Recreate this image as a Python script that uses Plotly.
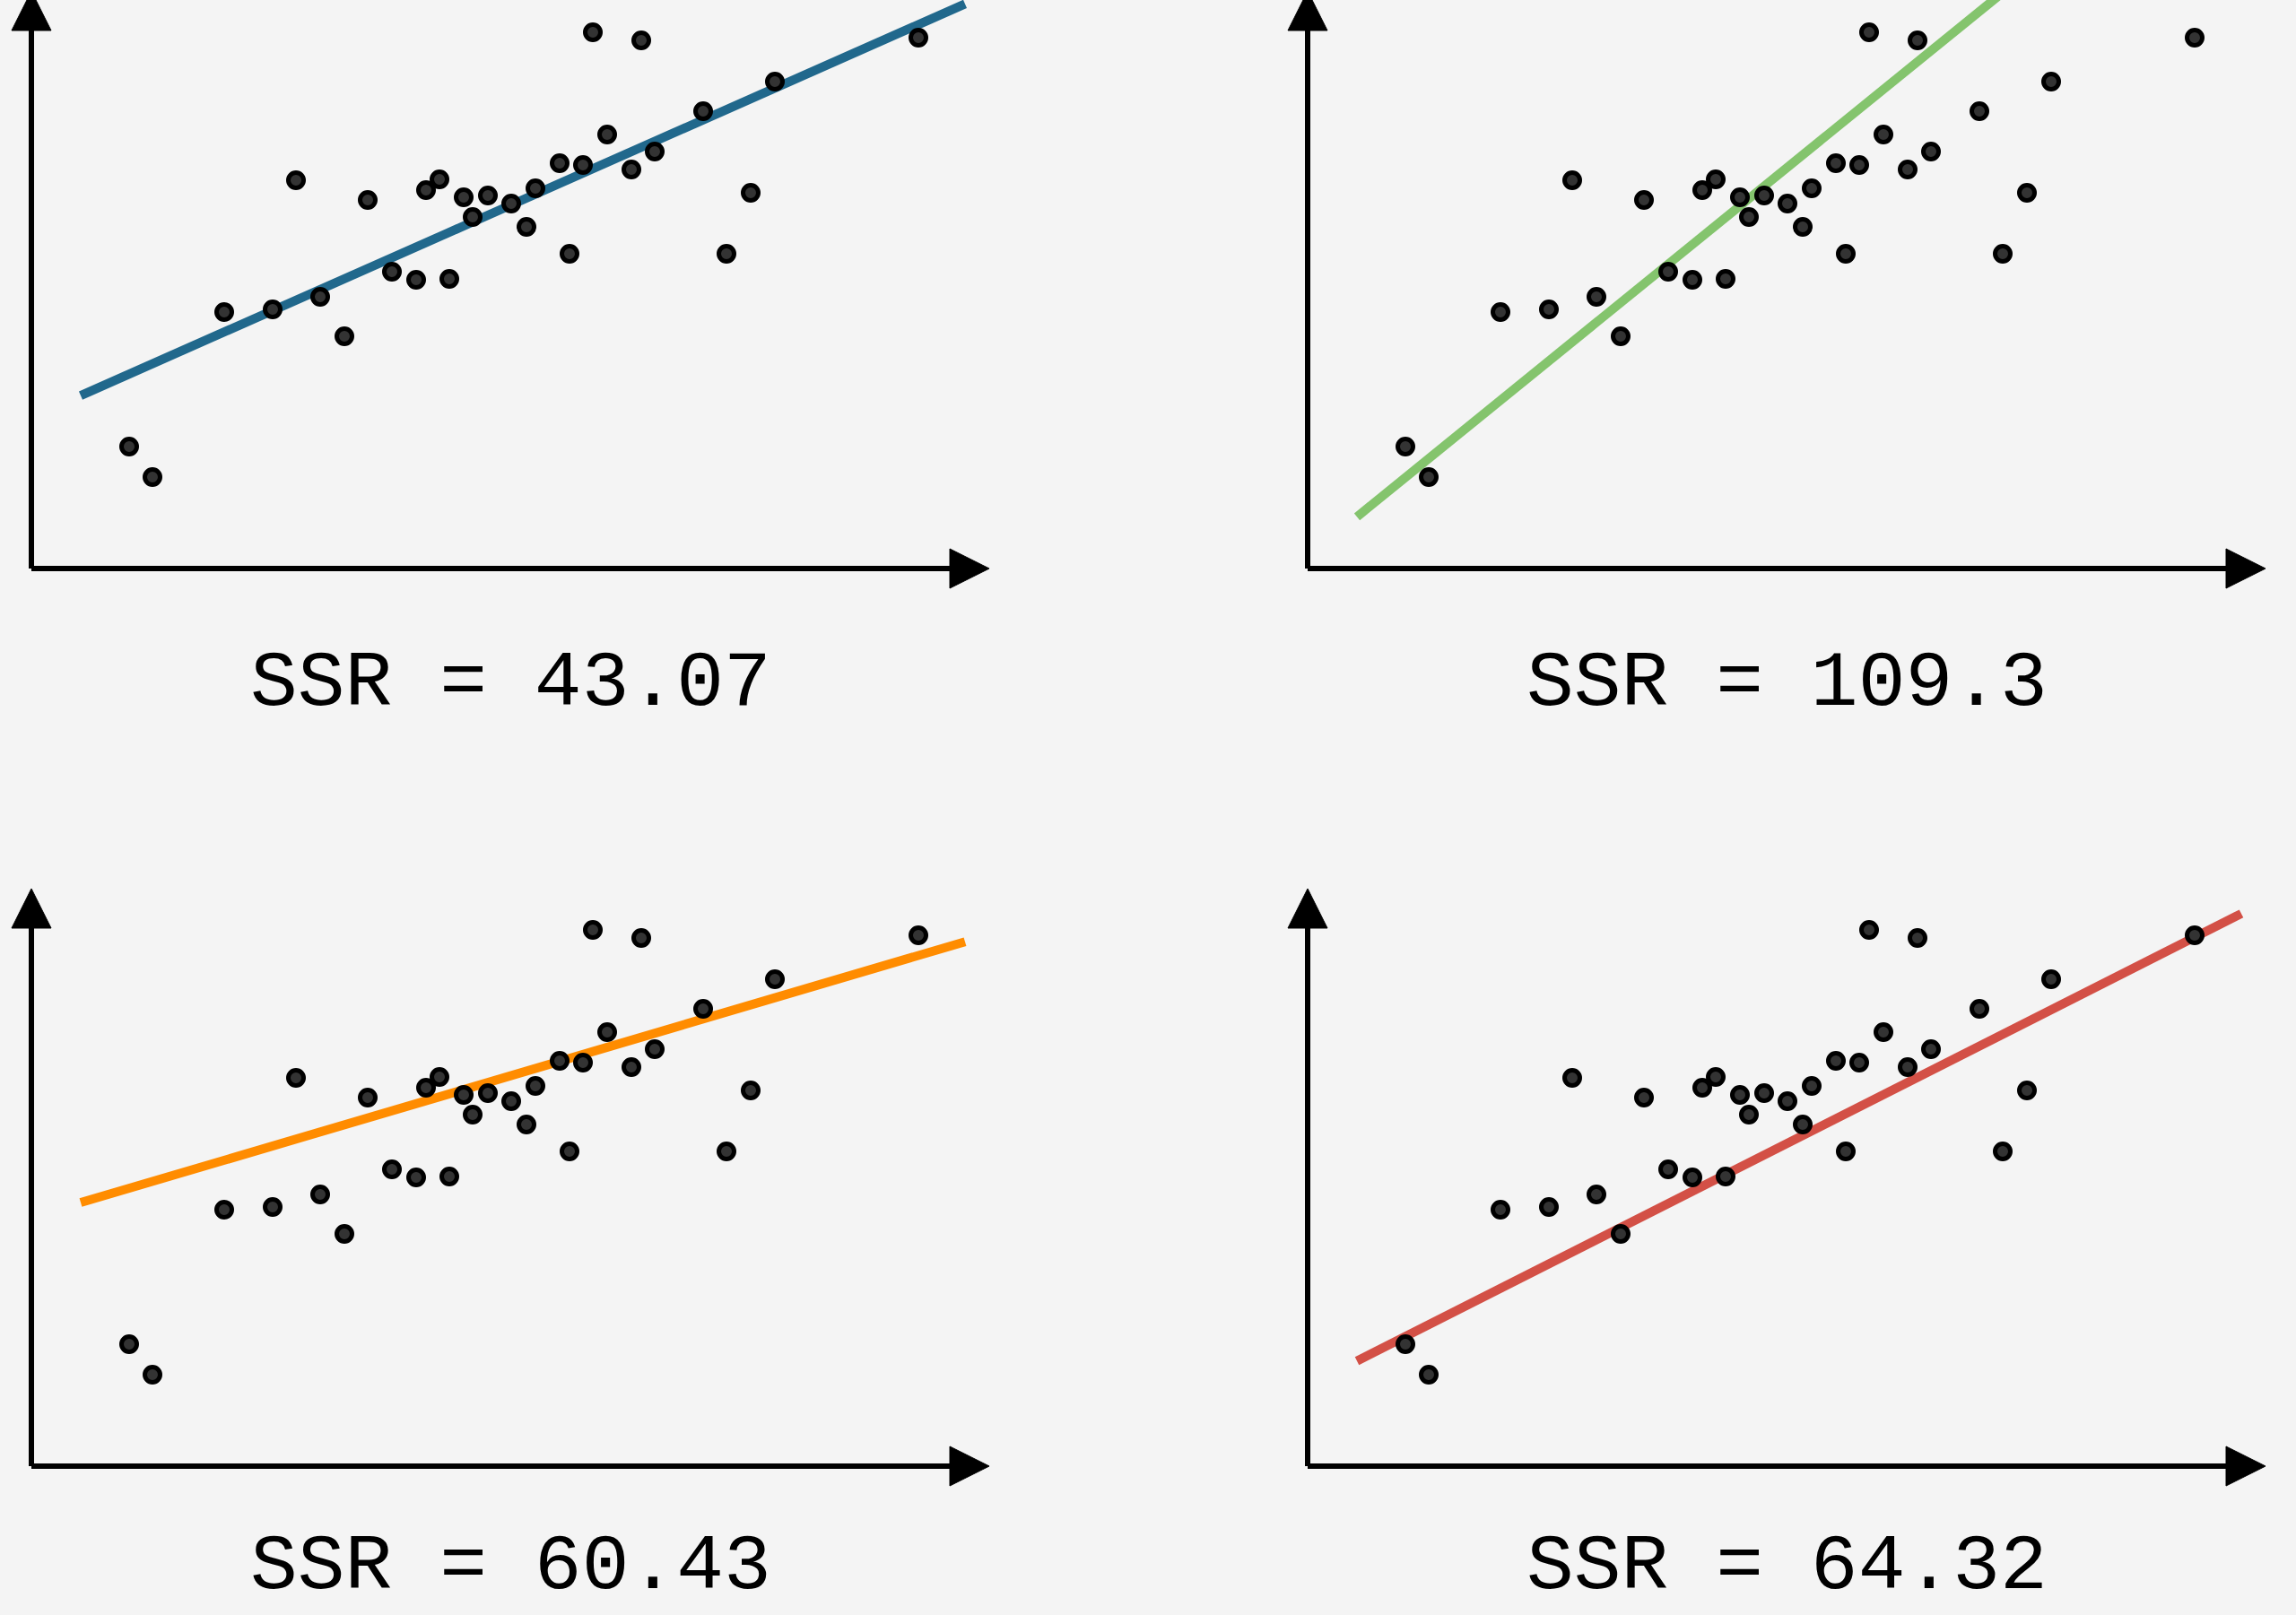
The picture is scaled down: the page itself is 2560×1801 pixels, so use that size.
import plotly.graph_objects as go

# scattered observations (same set in every panel), units: 100 px per unit
x_obs = [1.09, 1.35, 2.15, 2.69, 3.22, 3.49, 2.95, 3.75, 4.02, 4.29, 4.40,
         4.55, 4.66, 4.82, 4.92, 5.09, 5.35, 5.52, 5.62, 5.89, 6.00, 6.15,
         6.26, 6.42, 6.69, 6.80, 6.95, 7.49, 7.75, 8.02, 8.29, 9.89]
y_obs = [1.36, 1.02, 2.86, 2.89, 3.03, 2.59, 4.33, 4.11, 3.31, 3.22, 4.22,
         4.34, 3.23, 4.14, 3.92, 4.16, 4.07, 3.81, 4.24, 4.52, 3.51, 4.50,
         5.98, 4.84, 4.45, 5.89, 4.65, 5.10, 3.51, 4.19, 5.43, 5.92]

# candidate lines, one per panel
intercepts = [1.685, 0.130, 2.777, 0.894]
slopes = [0.443, 0.812, 0.295, 0.506]
line_colors = ["#21688c", "#84c46d", "#ff8c00", "#d35046"]
ssr_labels = ["SSR = 43.07", "SSR = 109.3", "SSR = 60.43", "SSR = 64.32"]
fit_x = [0.55, 10.41]

W, H = 2560, 1801
BG = "#f4f4f4"

# panel placement in pixels: (x0, x1, y0, y1 from bottom, x origin px, y origin px, label y)
panels = [
    (0, 1120, 1020, 1801, 35, 1167, -1.28),
    (1400, 2560, 1020, 1801, 1458, 1167, -1.28),
    (0, 1120, 0, 1000, 35, 166, -1.12),
    (1400, 2560, 0, 1000, 1458, 166, -1.12),
]

AX_LEN = 10.68   # x arrow tip
AY_LEN = 6.44    # y arrow tip
HEAD = 0.44

fig = go.Figure()
layout = dict(width=W, height=H, margin=dict(l=0, r=0, t=0, b=0),
              paper_bgcolor=BG, plot_bgcolor=BG, showlegend=False)
shapes = []
annotations = []

for i, (px0, px1, py0, py1, ox, oy, label_y) in enumerate(panels):
    n = "" if i == 0 else str(i + 1)
    xa, ya = "x" + n, "y" + n
    layout["xaxis" + n] = dict(domain=[px0 / W, px1 / W],
                               range=[(px0 - ox) / 100, (px1 - ox) / 100],
                               visible=False, anchor=ya)
    layout["yaxis" + n] = dict(domain=[py0 / H, py1 / H],
                               range=[(py0 - oy) / 100, (py1 - oy) / 100],
                               visible=False, anchor=xa)

    fy = [intercepts[i] + slopes[i] * v for v in fit_x]
    fig.add_trace(go.Scatter(x=fit_x, y=fy, mode="lines", xaxis=xa, yaxis=ya,
                             line=dict(color=line_colors[i], width=10)))
    fig.add_trace(go.Scatter(x=x_obs, y=y_obs, mode="markers", xaxis=xa, yaxis=ya,
                             marker=dict(size=17, color="#333333",
                                         line=dict(color="black", width=5))))

    # axes with arrow heads
    shapes.append(dict(type="line", xref=xa, yref=ya, x0=0, y0=0,
                       x1=AX_LEN - HEAD, y1=0, line=dict(color="black", width=6)))
    shapes.append(dict(type="line", xref=xa, yref=ya, x0=0, y0=0,
                       x1=0, y1=AY_LEN - HEAD, line=dict(color="black", width=6)))
    shapes.append(dict(type="path", xref=xa, yref=ya, fillcolor="black",
                       line=dict(color="black", width=1),
                       path=f"M {AX_LEN - HEAD},{HEAD / 2} L {AX_LEN},0 "
                            f"L {AX_LEN - HEAD},{-HEAD / 2} Z"))
    shapes.append(dict(type="path", xref=xa, yref=ya, fillcolor="black",
                       line=dict(color="black", width=1),
                       path=f"M {-HEAD / 2},{AY_LEN - HEAD} L 0,{AY_LEN} "
                            f"L {HEAD / 2},{AY_LEN - HEAD} Z"))

    annotations.append(dict(x=AX_LEN / 2, y=label_y, xref=xa, yref=ya,
                            text=ssr_labels[i], showarrow=False,
                            xanchor="center", yanchor="middle",
                            font=dict(family="Liberation Mono", size=88,
                                      color="black")))

layout["shapes"] = shapes
layout["annotations"] = annotations
fig.update_layout(**layout)

fig.write_html("out.html", config={"displayModeBar": False},
               post_script="document.body.style.margin='0';"
                           "document.body.style.background='#f4f4f4';")
